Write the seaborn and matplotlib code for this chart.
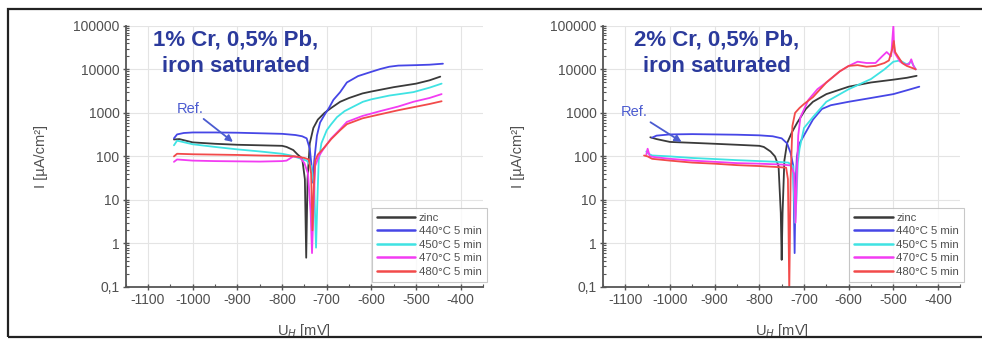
import numpy as np
import pandas as pd
import matplotlib
matplotlib.use("Agg")
import matplotlib.pyplot as plt
from matplotlib.patches import Rectangle
from matplotlib.ticker import LogLocator, FixedLocator, MultipleLocator
import seaborn as sns

# ---------------- data ----------------
series_labels = ["zinc", "440°C 5 min", "450°C 5 min", "470°C 5 min", "480°C 5 min"]
series_colors = ["#3a3a3a", "#4646e6", "#3fe3e3", "#f23cf2", "#f24a4a"]

panel_titles = ["1% Cr, 0,5% Pb,\niron saturated", "2% Cr, 0,5% Pb,\niron saturated"]
x_ticks = [-1100, -1000, -900, -800, -700, -600, -500, -400]
y_ticks = [0.1, 1, 10, 100, 1000, 10000, 100000]
y_tick_labels = ["0,1", "1", "10", "100", "1000", "10000", "100000"]

# left panel (1% Cr)
L_zinc_x = [-1042, -1030, -1000, -950, -900, -850, -800, -790, -775, -765, -755, -749, -746, -743, -738, -730, -720, -705, -690, -670, -650, -620, -600, -550, -500, -470, -446]
L_zinc_y = [245, 250, 210, 195, 185, 180, 175, 165, 140, 110, 90, 30, 0.47, 30, 200, 450, 700, 1000, 1300, 1800, 2200, 2800, 3100, 3900, 4700, 5600, 6800]
L_440_x = [-1042, -1035, -1020, -1000, -950, -900, -850, -800, -770, -755, -745, -738, -734, -731, -728, -722, -715, -705, -695, -685, -670, -655, -630, -600, -580, -560, -540, -500, -470, -440]
L_440_y = [260, 320, 345, 355, 355, 350, 340, 330, 310, 290, 260, 150, 60, 25, 80, 300, 600, 900, 1300, 2000, 3000, 5000, 7000, 8800, 10200, 11500, 12200, 12500, 12800, 13500]
L_450_x = [-1042, -1035, -1000, -950, -900, -850, -800, -780, -760, -745, -735, -728, -724, -721, -718, -712, -700, -690, -677, -660, -640, -619, -600, -560, -506, -470, -443]
L_450_y = [180, 230, 190, 165, 145, 130, 115, 105, 90, 80, 60, 20, 0.8, 10, 80, 200, 400, 550, 800, 1100, 1400, 1800, 2050, 2500, 3000, 3800, 4700]
L_470_x = [-1042, -1035, -1000, -950, -900, -850, -800, -790, -775, -760, -750, -742, -736, -733, -730, -726, -718, -708, -690, -670, -655, -620, -580, -540, -506, -470, -443]
L_470_y = [75, 85, 80, 78, 77, 76, 78, 80, 100, 95, 70, 40, 5, 0.6, 5, 60, 100, 145, 260, 420, 620, 850, 1100, 1400, 1800, 2200, 2700]
L_480_x = [-1042, -1035, -1000, -950, -900, -850, -800, -770, -750, -740, -735, -732, -729, -726, -720, -708, -690, -670, -655, -620, -580, -540, -506, -470, -443]
L_480_y = [100, 115, 112, 110, 108, 105, 103, 100, 92, 85, 40, 2, 20, 80, 110, 150, 250, 400, 550, 750, 930, 1150, 1350, 1600, 1850]

# right panel (2% Cr)
R_zinc_x = [-1044, -1030, -1000, -950, -900, -850, -800, -790, -775, -765, -757, -752, -750, -748, -744, -738, -727, -715, -696, -680, -650, -600, -550, -500, -470, -448]
R_zinc_y = [275, 250, 215, 205, 195, 185, 175, 165, 130, 100, 60, 5, 0.42, 5, 80, 200, 360, 600, 1230, 1800, 2700, 4000, 5000, 5800, 6400, 7100]
R_440_x = [-1040, -1030, -1000, -950, -900, -850, -800, -770, -750, -738, -730, -724, -721, -719, -716, -710, -696, -680, -660, -640, -600, -550, -500, -470, -442]
R_440_y = [270, 300, 320, 325, 320, 315, 305, 290, 260, 200, 120, 60, 0.6, 20, 100, 200, 360, 700, 1230, 1500, 1800, 2200, 2700, 3300, 4000]
R_450_x = [-1053, -1048, -1040, -1000, -950, -900, -850, -800, -760, -735, -725, -720, -717, -714, -710, -700, -680, -650, -600, -550, -520, -500, -485, -470, -460, -450]
R_450_y = [130, 115, 105, 100, 92, 87, 82, 78, 75, 72, 60, 3, 10, 70, 150, 450, 800, 1800, 3500, 6000, 10000, 15000, 16000, 13000, 15000, 10000]
R_470_x = [-1053, -1050, -1045, -1030, -1000, -950, -900, -850, -800, -750, -730, -722, -719, -716, -713, -708, -700, -690, -670, -650, -620, -600, -580, -560, -540, -525, -515, -505, -500, -498, -495, -485, -475, -465, -460, -455, -450]
R_470_y = [110, 150, 100, 95, 88, 80, 75, 70, 68, 65, 62, 40, 3, 40, 300, 800, 1200, 2000, 3500, 5000, 9000, 12000, 15000, 14000, 14000, 20000, 25000, 20000, 100000, 25000, 22000, 15000, 13000, 13000, 17000, 12000, 10000]
R_480_x = [-1058, -1050, -1040, -1000, -950, -900, -850, -800, -760, -740, -736, -733, -730, -726, -720, -710, -700, -680, -650, -620, -600, -580, -560, -540, -520, -510, -502, -499, -496, -490, -480, -470, -460, -450]
R_480_y = [105, 100, 88, 80, 72, 68, 63, 60, 57, 55, 30, 0.08, 30, 500, 1000, 1300, 1600, 2300, 5000, 9000, 12000, 12500, 11500, 12000, 14000, 16000, 30000, 45000, 25000, 20000, 14000, 12000, 11000, 10000]

left_series = [(L_zinc_x, L_zinc_y), (L_440_x, L_440_y), (L_450_x, L_450_y), (L_470_x, L_470_y), (L_480_x, L_480_y)]
right_series = [(R_zinc_x, R_zinc_y), (R_440_x, R_440_y), (R_450_x, R_450_y), (R_470_x, R_470_y), (R_480_x, R_480_y)]

# annotation positions ("Ref." text, arrow tip) in data coords
ref_text_pos = [(-1035, 1250), (-1110, 1050)]
ref_tip_pos = [(-910, 215), (-974, 215)]

# ---------------- figure ----------------
sns.set_theme(style="whitegrid")
plt.rcParams["font.family"] = ["Liberation Sans", "DejaVu Sans"]

fig = plt.figure(figsize=(9.82, 3.40), dpi=100)
fig.patch.set_facecolor("white")

axes_rects = [[0.128, 0.156, 0.364, 0.768], [0.614, 0.156, 0.364, 0.768]]
title_x = [0.24, 0.73]

for i, series in enumerate([left_series, right_series]):
    ax = fig.add_axes(axes_rects[i])
    ax.set_facecolor("white")
    frames = []
    for (xs, ys), lab in zip(series, series_labels):
        frames.append(pd.DataFrame({"U": xs, "I": ys, "series": lab}))
    df = pd.concat(frames, ignore_index=True)
    sns.lineplot(data=df, x="U", y="I", hue="series", hue_order=series_labels,
                 palette=series_colors, sort=False, estimator=None, lw=1.3, ax=ax)
    ax.set_yscale("log")
    ax.set_xlim(-1150, -350)
    ax.set_ylim(0.1, 100000)

    ax.xaxis.set_major_locator(FixedLocator(x_ticks))
    ax.xaxis.set_minor_locator(MultipleLocator(50))
    ax.yaxis.set_major_locator(FixedLocator(y_ticks))
    ax.yaxis.set_minor_locator(LogLocator(base=10, subs=[2, 3, 4, 5, 6, 7, 8, 9], numticks=20))
    ax.set_yticklabels(y_tick_labels)
    ax.set_xticklabels([str(v) for v in x_ticks])

    ax.grid(True, which="major", color="#e4e4e4", lw=0.8)
    ax.grid(False, which="minor")
    for s in ["top", "right"]:
        ax.spines[s].set_visible(False)
    for s in ["left", "bottom"]:
        ax.spines[s].set_color("#555555")
        ax.spines[s].set_linewidth(1.3)
    ax.tick_params(axis="both", which="major", direction="inout", length=5, width=1,
                   color="#555555", labelsize=10, labelcolor="#505050", pad=2)
    ax.tick_params(axis="both", which="minor", direction="in", length=2.5, width=0.8,
                   color="#555555")
    ax.tick_params(axis="both", which="both", bottom=True, left=True)

    ax.set_xlabel("U$_{H}$ [mV]", fontsize=10.5, color="#505050", labelpad=11)
    ax.set_ylabel("I [µA/cm²]", fontsize=10.5, color="#505050", labelpad=18)

    leg = ax.legend(loc="lower right", fontsize=8.2, frameon=True, fancybox=False,
                    edgecolor="#bbbbbb", handlelength=3.4, handletextpad=0.3,
                    labelspacing=0.3, borderpad=0.45, borderaxespad=0.0,
                    bbox_to_anchor=(1.01, 0.02))
    leg.get_frame().set_linewidth(0.8)
    for t in leg.get_texts():
        t.set_color("#505050")
    for h in leg.get_lines():
        h.set_linewidth(1.8)

    ax.annotate("Ref.", xy=ref_tip_pos[i], xytext=ref_text_pos[i],
                fontsize=10.5, color="#4b5bd0", va="center", ha="left",
                arrowprops=dict(arrowstyle="-|>", color="#4b5bd0", lw=1.3,
                                mutation_scale=10, shrinkA=0, shrinkB=0))

    fig.text(title_x[i], 0.843, panel_titles[i], ha="center", va="center",
             fontsize=16, fontweight="bold", color="#2b3a9c", linespacing=1.3)

# outer frame
fig.patches.append(Rectangle((8 / 982, 3 / 340), 1.0, 1 - 12 / 340, transform=fig.transFigure,
                             fill=False, edgecolor="#222222", lw=1.6, zorder=10))

fig.savefig("out.png", dpi=100, facecolor="white")
